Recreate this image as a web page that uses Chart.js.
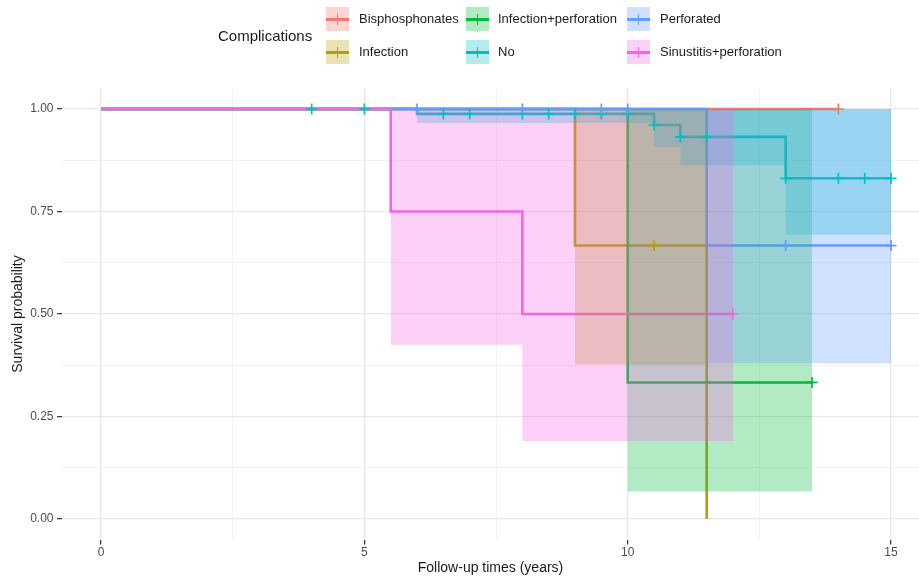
<!DOCTYPE html>
<html>
<head>
<meta charset="utf-8">
<title>Survival by complication</title>
<script src="https://cdn.jsdelivr.net/npm/chart.js@4.4.1/dist/chart.umd.min.js"></script>
<style>
  html, body { margin: 0; padding: 0; background: #ffffff; }
  #wrap { position: relative; width: 919px; height: 579px; overflow: hidden;
          font-family: "Liberation Sans", Arial, Helvetica, sans-serif; }
  #chart { position: absolute; left: 0; top: 0; }
  .legend-title { position: absolute; left: 218px; top: 27px; font-size: 15px; line-height: 18px; color: #1a1a1a; white-space: nowrap; }
  .key { position: absolute; width: 23px; height: 24px; }
  .key .h { position: absolute; left: 0; right: 0; top: 10.5px; height: 3px; }
  .key .v { position: absolute; left: 10.7px; width: 1.6px; top: 6.5px; height: 11px; }
  .lab { position: absolute; font-size: 13px; line-height: 16px; color: #1a1a1a; white-space: nowrap; }
</style>
</head>
<body>
<div id="wrap">
  <canvas id="chart" width="919" height="579"></canvas>
  <div id="legend"></div>
</div>
<script>
// ---- data -------------------------------------------------------------
const groups = ['Bisphosphonates', 'Infection', 'Infection+perforation', 'No', 'Perforated', 'Sinustitis+perforation'];
const groupColors = ['#F8766D', '#B79F00', '#00BA38', '#00BFC4', '#619CFF', '#F564E3'];

// Kaplan-Meier steps: time (years) at which each survival level begins
const bisTime = [0, 14];
const bisSurv = [1, 1];
const bisCensTime = [14];
const bisCensSurv = [1];
const bisBandTime = [];
const bisBandLow = [];
const bisBandHigh = [];

const infTime = [0, 9, 11.5];
const infSurv = [1, 0.667, 0];
const infCensTime = [10.5];
const infCensSurv = [0.667];
const infBandTime = [9, 11.5];
const infBandLow = [0.377, 0.377];
const infBandHigh = [1, 1];

const infPerfTime = [0, 10, 13.5];
const infPerfSurv = [1, 0.333, 0.333];
const infPerfCensTime = [13.5];
const infPerfCensSurv = [0.333];
const infPerfBandTime = [10, 13.5];
const infPerfBandLow = [0.067, 0.067];
const infPerfBandHigh = [1, 1];

const noTime = [0, 6, 10.5, 11, 13, 15];
const noSurv = [1, 0.988, 0.961, 0.932, 0.831, 0.831];
const noCensTime = [4, 5, 6.5, 7, 8, 8.5, 9, 9.5, 10, 10.5, 11, 11.5, 13, 14, 14.5, 15];
const noCensSurv = [1, 1, 0.988, 0.988, 0.988, 0.988, 0.988, 0.988, 0.988, 0.961, 0.932, 0.932, 0.831, 0.831, 0.831, 0.831];
const noBandTime = [6, 10.5, 11, 13, 15];
const noBandLow = [0.966, 0.908, 0.863, 0.693, 0.693];
const noBandHigh = [1, 1, 1, 1, 1];

const perfTime = [0, 11.5, 15];
const perfSurv = [1, 0.667, 0.667];
const perfCensTime = [6, 8, 9.5, 10, 13, 15];
const perfCensSurv = [1, 1, 1, 1, 0.667, 0.667];
const perfBandTime = [11.5, 15];
const perfBandLow = [0.38, 0.38];
const perfBandHigh = [1, 1];

const sinTime = [0, 5.5, 8, 12];
const sinSurv = [1, 0.75, 0.5, 0.5];
const sinCensTime = [12];
const sinCensSurv = [0.5];
const sinBandTime = [5.5, 8, 12];
const sinBandLow = [0.425, 0.19, 0.19];
const sinBandHigh = [1, 1, 1];

// axis ticks: labelled values and the finer grid in between
const xTickValues = [0, 5, 10, 15];
const xTickLabels = ['0', '5', '10', '15'];
const xGridValues = [0, 2.5, 5, 7.5, 10, 12.5, 15];
const yTickValues = [0, 0.25, 0.5, 0.75, 1];
const yTickLabels = ['0.00', '0.25', '0.50', '0.75', '1.00'];
const yGridValues = [0, 0.125, 0.25, 0.375, 0.5, 0.625, 0.75, 0.875, 1];

// ---- chart ------------------------------------------------------------
const series = [
  { t: bisTime, s: bisSurv, ct: bisCensTime, cs: bisCensSurv, bt: bisBandTime, lo: bisBandLow, hi: bisBandHigh },
  { t: infTime, s: infSurv, ct: infCensTime, cs: infCensSurv, bt: infBandTime, lo: infBandLow, hi: infBandHigh },
  { t: infPerfTime, s: infPerfSurv, ct: infPerfCensTime, cs: infPerfCensSurv, bt: infPerfBandTime, lo: infPerfBandLow, hi: infPerfBandHigh },
  { t: noTime, s: noSurv, ct: noCensTime, cs: noCensSurv, bt: noBandTime, lo: noBandLow, hi: noBandHigh },
  { t: perfTime, s: perfSurv, ct: perfCensTime, cs: perfCensSurv, bt: perfBandTime, lo: perfBandLow, hi: perfBandHigh },
  { t: sinTime, s: sinSurv, ct: sinCensTime, cs: sinCensSurv, bt: sinBandTime, lo: sinBandLow, hi: sinBandHigh }
];

function rgba(hex, a) {
  const n = parseInt(hex.slice(1), 16);
  return 'rgba(' + ((n >> 16) & 255) + ',' + ((n >> 8) & 255) + ',' + (n & 255) + ',' + a + ')';
}
const pts = (xs, ys) => xs.map((x, k) => ({ x: x, y: ys[k] }));

// Drawing order: step lines at the bottom, confidence bands over them,
// censoring marks on top; within each layer earlier groups lie underneath.
const datasets = [];
series.forEach((g, i) => {
  const rank = series.length - i;
  const color = groupColors[i];
  datasets.push({
    label: groups[i], data: pts(g.t, g.s), stepped: true,
    borderColor: color, borderWidth: 2.6, borderCapStyle: 'butt',
    pointRadius: 0, fill: false, order: 300 + rank
  });
  if (g.bt.length) {
    datasets.push({
      label: groups[i] + ' upper', data: pts(g.bt, g.hi), stepped: true,
      borderWidth: 0, borderColor: 'rgba(0,0,0,0)', pointRadius: 0,
      backgroundColor: rgba(color, 0.3), fill: '+1', order: 200 + rank
    });
    datasets.push({
      label: groups[i] + ' lower', data: pts(g.bt, g.lo), stepped: true,
      borderWidth: 0, borderColor: 'rgba(0,0,0,0)', pointRadius: 0,
      fill: false, order: 200 + rank
    });
  }
  datasets.push({
    label: groups[i] + ' censored', data: pts(g.ct, g.cs), showLine: false,
    pointStyle: 'cross', pointRadius: 5.5, pointBorderWidth: 1.7,
    pointBorderColor: color, pointBackgroundColor: color,
    fill: false, order: 100 + rank
  });
});

const FONT = '"Liberation Sans", Arial, Helvetica, sans-serif';
const isIn = (arr, v) => arr.some(a => Math.abs(a - v) < 1e-9);
const gridColor = (vals) => (ctx) => (ctx.tick && isIn(vals, ctx.tick.value)) ? '#E8E8E8' : '#F1F1F1';
const gridWidth = (vals) => (ctx) => (ctx.tick && isIn(vals, ctx.tick.value)) ? 1.3 : 0.9;
const tickColor = (vals) => (ctx) => (ctx.tick && isIn(vals, ctx.tick.value)) ? '#333333' : 'rgba(0,0,0,0)';
const labelFor = (vals, labels) => (v) => {
  const k = vals.findIndex(a => Math.abs(a - v) < 1e-9);
  return k >= 0 ? labels[k] : '';
};

new Chart(document.getElementById('chart'), {
  type: 'line',
  data: { datasets: datasets },
  options: {
    responsive: false,
    animation: false,
    events: [],
    layout: { autoPadding: false, padding: { top: 88.5, left: 0, right: 0, bottom: 0 } },
    plugins: {
      legend: { display: false },
      tooltip: { enabled: false },
      colors: { enabled: false }
    },
    scales: {
      x: {
        type: 'linear', min: -0.7405, max: 15.531,
        afterBuildTicks: (s) => { s.ticks = xGridValues.map(v => ({ value: v })); },
        afterFit: (s) => { s.height = 39.5; s.paddingLeft = 0; s.paddingRight = 0; },
        border: { display: false },
        grid: { color: gridColor(xTickValues), lineWidth: gridWidth(xTickValues),
                tickColor: tickColor(xTickValues), tickLength: 5, tickWidth: 1.2 },
        ticks: { callback: labelFor(xTickValues, xTickLabels), autoSkip: false, maxRotation: 0,
                 color: '#4D4D4D', font: { family: FONT, size: 12 }, padding: 1 },
        title: { display: true, text: 'Follow-up times (years)', color: '#1a1a1a',
                 font: { family: FONT, size: 14 }, padding: { top: 0, bottom: 2 } }
      },
      y: {
        type: 'linear', min: -0.05, max: 1.05,
        afterBuildTicks: (s) => { s.ticks = yGridValues.map(v => ({ value: v })); },
        afterFit: (s) => { s.width = 62; s.paddingTop = 0; s.paddingBottom = 0; },
        border: { display: false },
        grid: { color: gridColor(yTickValues), lineWidth: gridWidth(yTickValues),
                tickColor: tickColor(yTickValues), tickLength: 5, tickWidth: 1.2 },
        ticks: { callback: labelFor(yTickValues, yTickLabels), autoSkip: false,
                 color: '#4D4D4D', font: { family: FONT, size: 12 }, padding: 3.5 },
        title: { display: true, text: 'Survival probability', color: '#1a1a1a',
                 font: { family: FONT, size: 14 }, padding: { top: 9.6, bottom: 0 } }
      }
    }
  }
});

// ---- legend (two rows, filled by column) ------------------------------
const legend = document.getElementById('legend');
const title = document.createElement('div');
title.className = 'legend-title';
title.textContent = 'Complications';
legend.appendChild(title);
const keyLeft = [326, 466, 627];
const textLeft = [359, 498, 660];
const rowCenter = [19, 52];
groups.forEach((name, i) => {
  const col = Math.floor(i / 2), row = i % 2;
  const key = document.createElement('div');
  key.className = 'key';
  key.style.left = keyLeft[col] + 'px';
  key.style.top = (rowCenter[row] - 12) + 'px';
  key.style.background = rgba(groupColors[i], 0.3);
  const h = document.createElement('div'); h.className = 'h'; h.style.background = groupColors[i];
  const v = document.createElement('div'); v.className = 'v'; v.style.background = groupColors[i];
  key.appendChild(h); key.appendChild(v);
  legend.appendChild(key);
  const lab = document.createElement('div');
  lab.className = 'lab';
  lab.style.left = textLeft[col] + 'px';
  lab.style.top = (rowCenter[row] - 8) + 'px';
  lab.textContent = name;
  legend.appendChild(lab);
});
</script>
</body>
</html>
